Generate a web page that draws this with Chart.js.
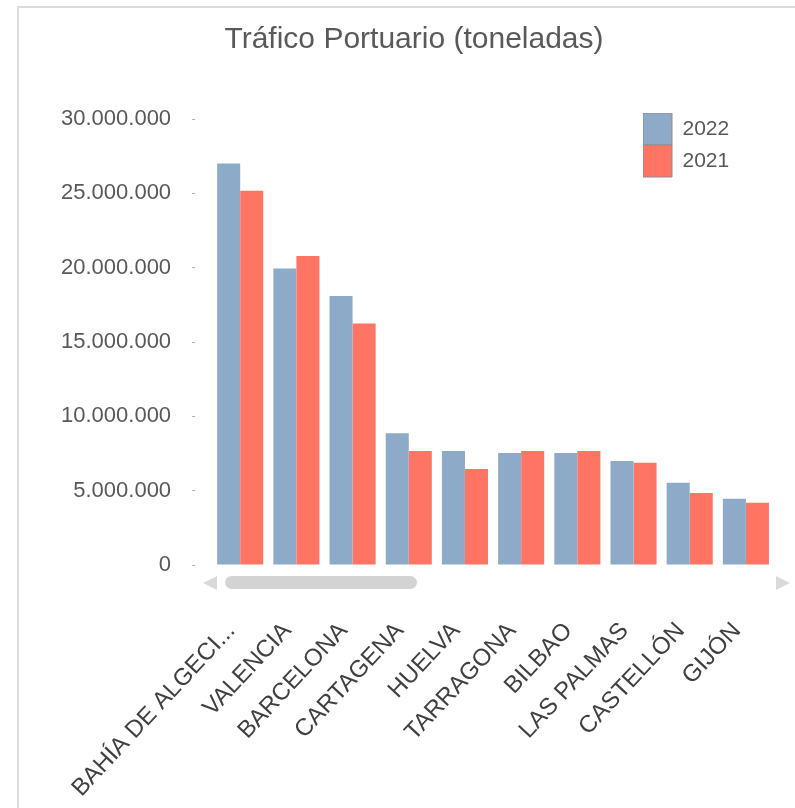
<!DOCTYPE html>
<html>
<head>
<meta charset="utf-8">
<script src="https://cdn.jsdelivr.net/npm/chart.js@4"></script>
<style>
  html, body { margin: 0; padding: 0; background: #ffffff; }
  body { width: 795px; height: 808px; position: relative; overflow: hidden; }
  #frame { position: absolute; left: 17px; top: 6px; width: 900px; height: 900px;
           border-top: 2px solid #dcdcdc; border-left: 2px solid #dcdcdc; box-sizing: border-box; }
  #wrap { position: absolute; left: 0; top: 0; width: 795px; height: 808px; }
  #scroll { position: absolute; left: 0; top: 0; pointer-events: none; }
</style>
</head>
<body>
<div id="frame"></div>
<div id="wrap"><canvas id="c" width="795" height="808"></canvas></div>
<svg id="scroll" width="795" height="808">
  <polygon points="217,576 217,590 203,583" fill="#d9d9d9"/>
  <rect x="225" y="576" width="192" height="13" rx="6.5" ry="6.5" fill="#d3d3d3"/>
  <polygon points="776,576 776,590 790,583" fill="#d9d9d9"/>
</svg>
<script>
const chartTitle = "Tráfico Portuario (toneladas)";
const categories = ["BAHÍA DE ALGECI...", "VALENCIA", "BARCELONA", "CARTAGENA", "HUELVA",
                    "TARRAGONA", "BILBAO", "LAS PALMAS", "CASTELLÓN", "GIJÓN"];
const seriesLabels = ["2022", "2021"];
const values2022 = [27000000, 19950000, 18100000, 8870000, 7670000, 7530000, 7530000, 7000000, 5530000, 4460000];
const values2021 = [25170000, 20780000, 16250000, 7670000, 6460000, 7670000, 7670000, 6880000, 4840000, 4190000];
const yTickValues = [0, 5000000, 10000000, 15000000, 20000000, 25000000, 30000000];

const fmt = v => String(v).replace(/\B(?=(\d{3})+(?!\d))/g, '.');

Chart.defaults.font.family = "'Liberation Sans', Arial, sans-serif";

const placer = {
  id: 'placer',
  beforeDraw(chart) {
    const lg = chart.legend, ca = chart.chartArea;
    if (lg) {
      lg.left = ca.right - 131;
      lg.top = ca.top - 6;
      lg.width = 140;
      lg.height = 200;
      lg.right = lg.left + lg.width;
      lg.bottom = lg.top + lg.height;
    }
    const tb = chart.titleBlock;
    if (tb && !tb._shifted) {
      tb.left += 7; tb.right += 7; tb._shifted = true;
    }
  }
};

new Chart(document.getElementById('c'), {
  type: 'bar',
  data: {
    labels: categories,
    datasets: [
      { label: seriesLabels[0], data: values2022, backgroundColor: '#8eaac9', borderWidth: 0 },
      { label: seriesLabels[1], data: values2021, backgroundColor: '#ff7462', borderWidth: 0 }
    ]
  },
  options: {
    responsive: false,
    animation: false,
    events: [],
    layout: { padding: { left: 40, right: 21, top: 12, bottom: 0 } },
    datasets: { bar: { categoryPercentage: 0.82, barPercentage: 1.0 } },
    plugins: {
      title: {
        display: true, text: chartTitle, color: '#595959',
        font: { size: 30, weight: 'normal' },
        padding: { top: 10, bottom: 61 }
      },
      legend: {
        display: true, position: 'chartArea', fullSize: false, align: 'start',
        labels: {
          boxWidth: 29, boxHeight: 32, padding: 0, color: '#595959',
          font: { size: 21 },
          generateLabels(chart) {
            return Chart.defaults.plugins.legend.labels.generateLabels(chart)
              .map(l => Object.assign(l, { strokeStyle: '#8c8c8c', lineWidth: 1 }));
          }
        }
      },
      tooltip: { enabled: false }
    },
    scales: {
      x: {
        grid: { display: false, drawTicks: false },
        border: { display: false },
        ticks: {
          autoSkip: false, minRotation: 47, maxRotation: 47, padding: 52, labelOffset: -9,
          color: '#404040', font: { size: 24 }
        },
        afterFit(scale) { scale.height = 243; scale.paddingLeft = 0; scale.paddingRight = 0; }
      },
      y: {
        min: 0, max: 30000000,
        border: { display: false },
        grid: { display: true, drawOnChartArea: false, drawTicks: true, tickLength: 20,
                tickColor: '#b0b0b0', tickWidth: 1, tickBorderDash: [3, 100] },
        afterBuildTicks(axis) { axis.ticks = yTickValues.map(v => ({ value: v })); },
        ticks: {
          padding: 21, color: '#595959', font: { size: 22 },
          callback: v => fmt(v)
        }
      }
    }
  },
  plugins: [placer]
});
</script>
</body>
</html>
